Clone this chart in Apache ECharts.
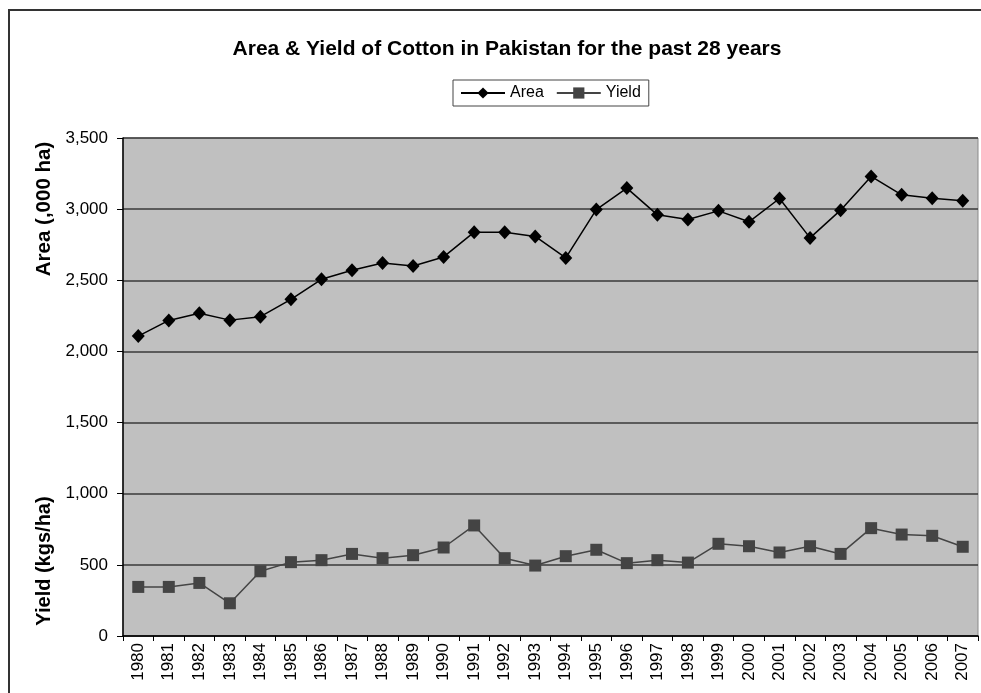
<!DOCTYPE html>
<html>
<head>
<meta charset="utf-8">
<script src="https://cdn.jsdelivr.net/npm/echarts@6/dist/echarts.min.js"></script>
<style>
  html, body { margin: 0; padding: 0; background: #fff; }
  #chart { width: 981px; height: 693px; }
</style>
</head>
<body>
<div id="chart"></div>
<script>
const years = ["1980", "1981", "1982", "1983", "1984", "1985", "1986", "1987", "1988", "1989",
  "1990", "1991", "1992", "1993", "1994", "1995", "1996", "1997", "1998", "1999",
  "2000", "2001", "2002", "2003", "2004", "2005", "2006", "2007"];
const area = [2108, 2218, 2268, 2220, 2244, 2366, 2507, 2570, 2622, 2601,
  2664, 2838, 2838, 2808, 2657, 2997, 3148, 2960, 2927, 2988,
  2911, 3075, 2798, 2993, 3230, 3101, 3077, 3059];
const yieldKg = [345, 345, 373, 230, 455, 519, 533, 577, 547, 568,
  622, 777, 547, 495, 561, 606, 512, 533, 516, 648,
  631, 587, 631, 577, 758, 713, 704, 627];

const myChart = echarts.init(document.getElementById("chart"));
const font = "Liberation Sans, Arial, sans-serif";

const option = {
  animation: false,
  textStyle: { fontFamily: font },
  title: {
    text: "Area & Yield of Cotton in Pakistan for the past 28 years",
    left: 502,
    textAlign: "center",
    top: 34,
    textStyle: { fontSize: 21, fontWeight: "bold", color: "#000", fontFamily: font },
  },
  legend: {
    top: 80,
    left: 453,
    itemWidth: 44,
    itemHeight: 14,
    itemGap: 12,
    padding: [5, 8, 5, 7],
    borderColor: "#444",
    borderWidth: 1,
    backgroundColor: "#fff",
    textStyle: { fontSize: 16, color: "#000", fontFamily: font },
    data: ["Area", "Yield"],
  },
  grid: {
    left: 123,
    top: 138,
    right: 3,
    bottom: 57,
    show: true,
    backgroundColor: "#c0c0c0",
    borderColor: "#8a8a8a",
    borderWidth: 1,
  },
  xAxis: {
    type: "category",
    data: years,
    boundaryGap: true,
    axisLine: { lineStyle: { color: "#000", width: 1.5 } },
    axisTick: { show: true, length: 5, lineStyle: { color: "#000" } },
    axisLabel: { rotate: 90, fontSize: 17, color: "#000", margin: 7, interval: 0 },
  },
  yAxis: {
    type: "value",
    min: 0,
    max: 3500,
    interval: 500,
    axisLine: { show: true, lineStyle: { color: "#000", width: 1.5 } },
    axisTick: { show: true, length: 6, lineStyle: { color: "#000" } },
    splitLine: { lineStyle: { color: "#3a3a3a", width: 1.5 } },
    axisLabel: {
      fontSize: 17,
      color: "#000",
      margin: 15,
      formatter: (v) => v.toLocaleString("en-US"),
    },
  },
  graphic: [
    {
      type: "rect",
      silent: true,
      shape: { x: 9, y: 10, width: 1100, height: 800 },
      style: { fill: "none", stroke: "#333", lineWidth: 2 },
      z: -10,
    },
    {
      type: "text",
      x: 44,
      y: 209,
      rotation: Math.PI / 2,
      style: {
        text: "Area (,000 ha)",
        font: "bold 20.5px " + font,
        fill: "#000",
        align: "center",
        verticalAlign: "middle",
      },
    },
    {
      type: "text",
      x: 44,
      y: 561,
      rotation: Math.PI / 2,
      style: {
        text: "Yield (kgs/ha)",
        font: "bold 20px " + font,
        fill: "#000",
        align: "center",
        verticalAlign: "middle",
      },
    },
  ],
  series: [
    {
      name: "Area",
      type: "line",
      data: area,
      symbol: "diamond",
      symbolSize: [13, 14],
      color: "#000",
      lineStyle: { color: "#000", width: 1.5 },
      itemStyle: { color: "#000" },
    },
    {
      name: "Yield",
      type: "line",
      data: yieldKg,
      symbol: "rect",
      symbolSize: 12,
      color: "#444",
      lineStyle: { color: "#444", width: 1.5 },
      itemStyle: { color: "#444" },
    },
  ],
};

myChart.setOption(option);
</script>
</body>
</html>
